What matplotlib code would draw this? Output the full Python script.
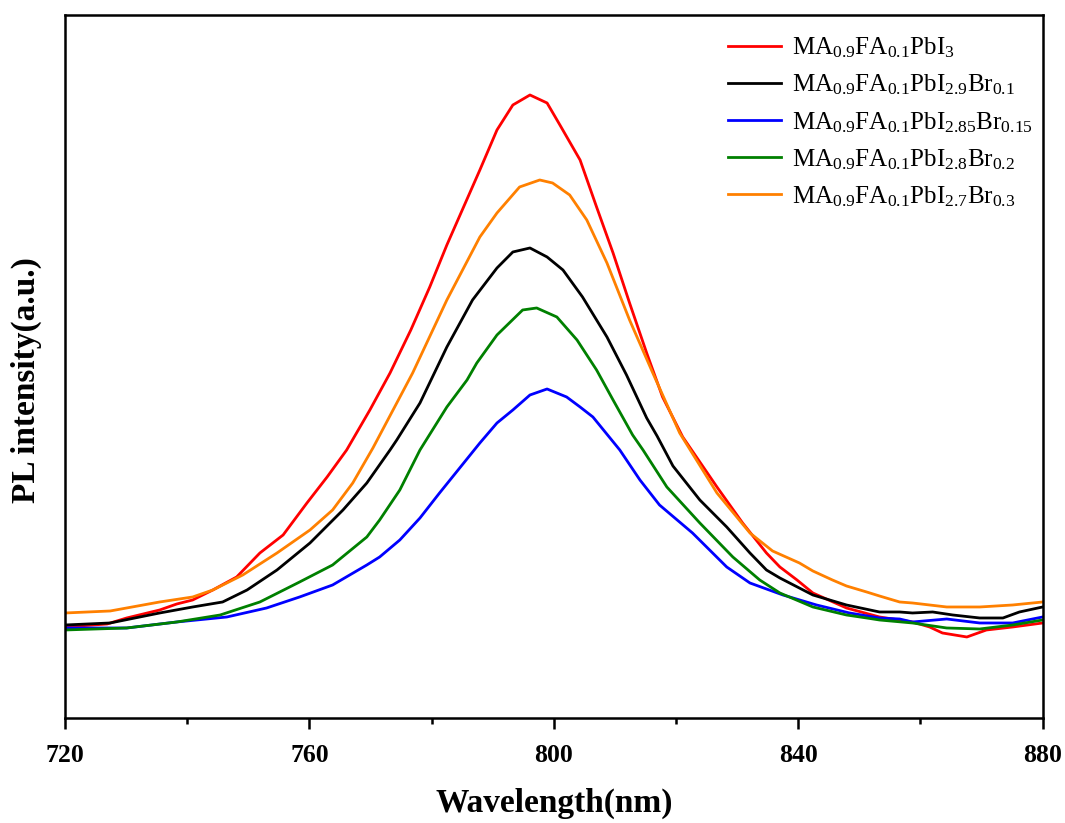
import numpy as np
import matplotlib
matplotlib.use("Agg")
import matplotlib.pyplot as plt

plt.rcParams["font.family"] = ["Liberation Serif", "DejaVu Serif"]
plt.rcParams["mathtext.fontset"] = "custom"
plt.rcParams["mathtext.rm"] = "Liberation Serif"
plt.rcParams["mathtext.it"] = "Liberation Serif:italic"
plt.rcParams["mathtext.bf"] = "Liberation Serif:bold"

# PL spectra (wavelength in nm, intensity in a.u.)
wl_red = [720, 726.9, 730.1, 735.5, 738.3, 740.9, 744.2, 748.1, 751.9, 755.7,
          759.6, 762.9, 766.1, 769.9, 773.2, 776.6, 779.7, 782.5, 787.9, 790.7,
          793.3, 796.1, 798.9, 801.0, 804.3, 807.0, 809.7, 812.4, 815.2, 817.8,
          821.1, 826.7, 830.9, 834.8, 837.0, 839.8, 842.4, 847.9, 853.3, 858.7,
          861.5, 863.6, 867.6, 870.8, 875.1, 880]
pl_red = [91, 94, 100, 108, 114, 118, 128, 141, 165, 183,
          215, 241, 268, 308, 345, 388, 431, 473, 548, 588,
          613, 623, 615, 593, 558, 511, 465, 415, 365, 321,
          281, 231, 195, 165, 151, 138, 125, 110, 101, 96,
          91, 85, 81, 88, 91, 95]

wl_black = [720, 727.4, 735.5, 740.9, 745.8, 749.8, 754.7, 760.1, 765.5, 769.4,
            773.2, 774.3, 778.1, 782.5, 786.7, 790.7, 793.3, 796.1, 798.9, 801.5,
            804.7, 808.7, 811.9, 815.2, 816.9, 819.5, 823.9, 828.3, 832.1, 834.8,
            837.0, 842.4, 847.9, 853.3, 856.6, 858.7, 862.0, 865.3, 869.7, 873.5,
            876.2, 880]
pl_black = [93, 95, 105, 111, 116, 128, 148, 175, 208, 235,
            268, 278, 315, 371, 418, 450, 466, 470, 461, 448,
            421, 381, 343, 300, 282, 252, 218, 191, 165, 148,
            140, 123, 113, 106, 106, 105, 106, 103, 100, 100,
            106, 111]

wl_blue = [720, 730.1, 738.3, 746.5, 753.0, 758.4, 763.8, 769.4, 771.5, 774.8,
           778.1, 781.3, 784.6, 787.9, 790.7, 793.3, 796.1, 798.9, 802.1, 804.3,
           806.4, 809.2, 810.8, 814.1, 817.3, 822.7, 828.3, 832.1, 837.5, 843.0,
           848.4, 853.3, 856.6, 858.7, 864.3, 869.7, 875.1, 880]
pl_blue = [90, 90, 96, 101, 110, 121, 133, 153, 161, 178,
           200, 225, 250, 275, 295, 308, 323, 329, 321, 311,
           301, 280, 268, 238, 213, 185, 151, 135, 123, 113,
           105, 100, 99, 96, 99, 95, 95, 101]

wl_green = [720, 730.1, 738.3, 745.4, 751.9, 758.4, 763.8, 769.4, 771.5, 774.8,
            778.1, 782.5, 785.8, 787.4, 790.7, 794.9, 797.2, 800.5, 803.8, 807.0,
            809.7, 812.9, 814.6, 818.5, 823.9, 829.3, 833.7, 837.0, 842.4, 847.9,
            851.2, 853.3, 858.7, 864.3, 869.7, 875.1, 880]
pl_green = [88, 90, 96, 103, 116, 136, 153, 181, 198, 228,
            268, 311, 338, 355, 383, 408, 410, 401, 378, 348,
            318, 283, 268, 231, 195, 161, 138, 125, 111, 103,
            100, 98, 95, 90, 89, 93, 98]

wl_orange = [720, 727.4, 735.5, 740.9, 744.2, 749.1, 754.7, 760.1, 763.8, 767.1,
             770.4, 776.9, 782.5, 787.9, 790.7, 794.4, 797.7, 799.8, 802.6, 805.4,
             808.7, 812.4, 816.2, 820.6, 826.7, 832.1, 835.8, 840.2, 842.4, 845.6,
             847.9, 851.2, 853.3, 856.6, 858.7, 864.3, 869.7, 875.1, 880]
pl_orange = [105, 107, 116, 121, 128, 143, 165, 188, 208, 235,
             270, 345, 418, 481, 505, 531, 538, 535, 523, 498,
             455, 398, 345, 285, 225, 185, 167, 155, 147, 138,
             132, 126, 122, 116, 115, 111, 111, 113, 116]

labels = [
    r"MA$_{0.9}$FA$_{0.1}$PbI$_{3}$",
    r"MA$_{0.9}$FA$_{0.1}$PbI$_{2.9}$Br$_{0.1}$",
    r"MA$_{0.9}$FA$_{0.1}$PbI$_{2.85}$Br$_{0.15}$",
    r"MA$_{0.9}$FA$_{0.1}$PbI$_{2.8}$Br$_{0.2}$",
    r"MA$_{0.9}$FA$_{0.1}$PbI$_{2.7}$Br$_{0.3}$",
]
colors = ["#ff0000", "#000000", "#0000ff", "#008000", "#ff8000"]

series = [(wl_red, pl_red), (wl_black, pl_black), (wl_blue, pl_blue),
          (wl_green, pl_green), (wl_orange, pl_orange)]

fig = plt.figure(figsize=(10.65, 8.23), dpi=100)
ax = fig.add_axes([0.061, 0.1276, 0.918, 0.8542])

for (x, y), lab, c in zip(series, labels, colors):
    ax.plot(x, y, color=c, linewidth=2.0, label=lab)

ax.set_xlim(720, 880)
ax.set_ylim(0, 703)
ax.set_xticks(np.arange(720, 881, 40))
ax.set_xticks(np.arange(740, 880, 40), minor=True)
ax.set_yticks([])

for s in ax.spines.values():
    s.set_linewidth(1.8)

ax.tick_params(axis="x", which="major", direction="out", length=8, width=1.8,
               labelsize=18.5, pad=11)
ax.tick_params(axis="x", which="minor", direction="out", length=4, width=1.8)
for t in ax.get_xticklabels():
    t.set_fontweight("bold")

ax.set_xlabel("Wavelength(nm)", fontsize=24, fontweight="bold", labelpad=15)
ax.set_ylabel("PL intensity(a.u.)", fontsize=24, fontweight="bold")
ax.yaxis.set_label_coords(-0.024, 0.481)

ax.legend(loc="upper right", bbox_to_anchor=(1.004, 0.99), frameon=False,
          fontsize=18, handlelength=2.1, handletextpad=0.45, labelspacing=0.5,
          borderaxespad=0.15)

fig.savefig("out.png", dpi=100)
